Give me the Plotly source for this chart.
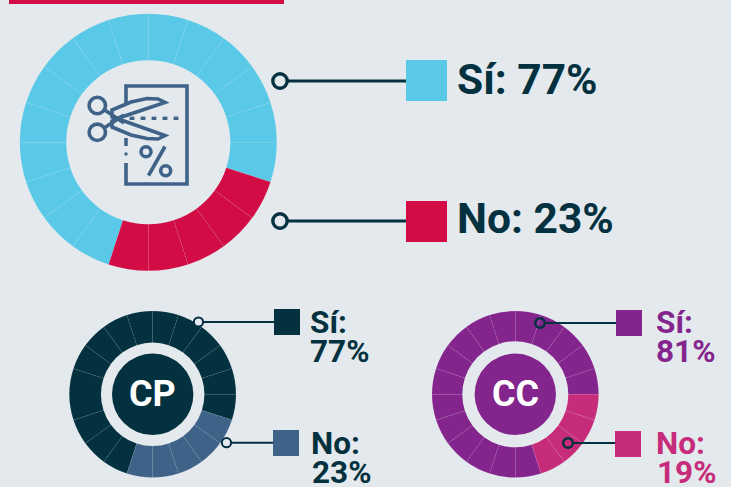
import math
import plotly.graph_objects as go

W, H = 731, 487
BG = "#e4e9ed"
NAVY = "#03313f"
RED = "#d20c44"
SKY = "#5ac9e7"
STEEL = "#3f6388"
PURPLE = "#84258d"
PINK = "#c62c7a"

# Ring cells: each ring is a wheel of 20 cells
main_cells = [1] * 15 + [1] * 5
main_colors = [SKY] * 15 + [RED] * 5
cp_cells = [1, 1, 1, 2] + [1] * 10 + [1] * 5
cp_colors = [NAVY] * 14 + [STEEL] * 5
cc_cells = [1] * 16 + [1] * 4
cc_colors = [PURPLE] * 16 + [PINK] * 4

main_labels = ["Sí: 77%", "No: 23%"]
cp_labels = ["Sí:", "77%", "No:", "23%"]
cc_labels = ["Sí:", "81%", "No:", "19%"]


def ring(values, colors, cx, cy, r, hole, rot):
    return go.Pie(
        values=values, marker=dict(colors=colors, line=dict(color="rgba(255,255,255,0.09)", width=0.6)),
        hole=hole, rotation=rot, sort=False, direction="clockwise", textinfo="none",
        hoverinfo="skip", showlegend=False,
        domain=dict(x=[(cx - r) / W, (cx + r) / W], y=[1 - (cy + r) / H, 1 - (cy - r) / H]),
    )


fig = go.Figure()
fig.add_trace(ring(main_cells, main_colors, 148.3, 142.3, 128.5, 82 / 128.5, 198))
fig.add_trace(ring(cp_cells, cp_colors, 152.7, 394.3, 83.3, 51.7 / 83.3, 198))
fig.add_trace(ring(cc_cells, cc_colors, 515.3, 394.3, 83.3, 53 / 83.3, 162))

shapes = []


def rect(x0, y0, x1, y1, c):
    shapes.append(dict(type="rect", xref="x", yref="y", x0=x0, y0=y0, x1=x1, y1=y1,
                       fillcolor=c, line=dict(width=0), layer="above"))


def circ(cx, cy, r, fill, stroke, w):
    shapes.append(dict(type="circle", xref="x", yref="y", x0=cx - r, y0=cy - r, x1=cx + r, y1=cy + r,
                       fillcolor=fill, line=dict(color=stroke, width=w), layer="above"))


def seg(x0, y0, x1, y1, c, w):
    shapes.append(dict(type="line", xref="x", yref="y", x0=x0, y0=y0, x1=x1, y1=y1,
                       line=dict(color=c, width=w), layer="above"))


def path(pts, c, w, close=False):
    d = "M" + " L".join(f"{x:.1f},{y:.1f}" for x, y in pts) + (" Z" if close else "")
    shapes.append(dict(type="path", xref="x", yref="y", path=d, line=dict(color=c, width=w),
                       fillcolor="rgba(0,0,0,0)", layer="above"))


rect(9, 0, 284, 4, RED)

# main legend
seg(288, 81, 406, 81, NAVY, 3)
seg(288, 221, 406, 221, NAVY, 3)
circ(280, 81, 7.2, BG, NAVY, 3.4)
circ(280, 221, 7.2, BG, NAVY, 3.4)
rect(406, 60, 447, 101, SKY)
rect(406, 201, 447, 242, RED)

# CP
circ(152.7, 394.3, 40.7, NAVY, NAVY, 0)
seg(203, 322, 274, 322, NAVY, 2)
seg(231, 442.7, 273, 442.7, NAVY, 2)
circ(198.5, 322, 4.6, BG, NAVY, 2)
circ(226.5, 442.7, 4.6, BG, NAVY, 2)
rect(274, 309, 300, 335, NAVY)
rect(273, 430, 299, 456, STEEL)

# CC
circ(515.3, 394.3, 40.7, PURPLE, PURPLE, 0)
seg(545, 323, 616, 323, NAVY, 2)
seg(573, 443, 615, 443, NAVY, 2)
circ(540, 323, 4.8, "rgba(0,0,0,0)", NAVY, 2.4)
circ(568, 443, 4.8, "rgba(0,0,0,0)", NAVY, 2.4)
rect(616, 310, 642, 336, PURPLE)
rect(615, 431, 641, 457, PINK)

# icon
ICON = STEEL
IW = 3.6
path([(126, 103), (126, 86), (187, 86), (187, 184), (126, 184), (126, 163)], ICON, IW)
seg(126, 138, 126, 146, ICON, IW)
circ(126, 154, 0.8, ICON, ICON, 1.8)
circ(97.3, 105.5, 8.2, "rgba(0,0,0,0)", ICON, IW)
circ(97.3, 132.3, 8.2, "rgba(0,0,0,0)", ICON, IW)
seg(104, 109.5, 124, 123, ICON, IW)
seg(104, 128, 124, 115, ICON, IW)
path([(112, 110), (131, 102), (147, 98.5), (158, 99), (165, 102.5), (117, 118.5), (112, 117)], ICON, IW, True)
path([(112, 127), (131, 135), (147, 138.5), (158, 139), (165, 135.5), (117, 118.5), (112, 121)], ICON, IW, True)
for x in (132, 143, 154, 165, 176):
    seg(x - 2.4, 118.3, x + 2.4, 118.3, ICON, 3.4)
circ(146, 151.7, 5, "rgba(0,0,0,0)", ICON, IW)
circ(165.7, 170.7, 5, "rgba(0,0,0,0)", ICON, IW)
seg(165, 146.5, 148.5, 175.5, ICON, IW)


def txt(x, y, s, c, size):
    return dict(x=x, y=y, xref="x", yref="y", text=f"<b>{s}</b>", showarrow=False, xanchor="left", yanchor="middle",
                font=dict(family="Roboto", size=size, color=c))


ann = [
    txt(455, 79, main_labels[0], NAVY, 42.5),
    txt(455, 218, main_labels[1], NAVY, 42.5),
    txt(308, 322, cp_labels[0], NAVY, 31.5),
    txt(308, 351, cp_labels[1], NAVY, 31.5),
    txt(309, 443, cp_labels[2], NAVY, 31.5),
    txt(310, 472, cp_labels[3], NAVY, 31.5),
    txt(654, 322, cc_labels[0], PURPLE, 31.5),
    txt(654, 351, cc_labels[1], PURPLE, 31.5),
    txt(654, 443, cc_labels[2], PINK, 31.5),
    txt(655, 472, cc_labels[3], PINK, 31.5),
    dict(x=152.7, y=394.3, xref="x", yref="y", text="<b>CP</b>", showarrow=False,
         font=dict(family="Roboto", size=36, color="white")),
    dict(x=515.3, y=394.3, xref="x", yref="y", text="<b>CC</b>", showarrow=False,
         font=dict(family="Roboto", size=36, color="white")),
]

fig.update_layout(
    width=W, height=H, margin=dict(l=0, r=0, t=0, b=0), paper_bgcolor=BG, plot_bgcolor=BG,
    xaxis=dict(range=[0, W], visible=False, fixedrange=True),
    yaxis=dict(range=[H, 0], visible=False, fixedrange=True),
    shapes=shapes, annotations=ann, showlegend=False,
)
# cartesian axes need a trace to exist
fig.add_trace(go.Scatter(x=[0], y=[0], mode="markers", marker=dict(opacity=0), hoverinfo="skip", showlegend=False))
fig.write_html("out.html", post_script="document.body.style.margin='0';document.body.style.background='%s';" % BG,
               config=dict(displayModeBar=False))
